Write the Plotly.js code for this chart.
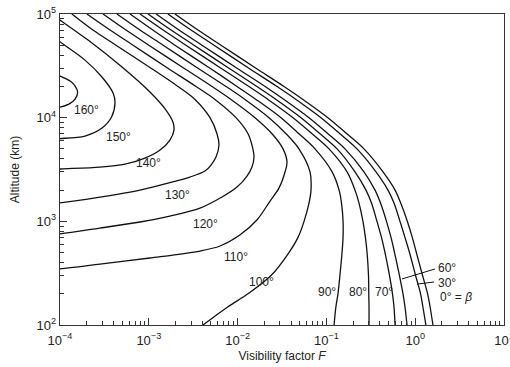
<!DOCTYPE html>
<html><head><meta charset="utf-8">
<script src="https://cdn.plot.ly/plotly-3.0.1.min.js"></script>
<style>html,body{margin:0;padding:0;background:#fff}#c{width:510px;height:367px}</style>
</head><body><div id="c"></div>
<script>
// Altitude levels (km) shared by the low-angle curves
const hLevels = [100000,70000,50000,30000,20000,15000,10000,7000,5000,3000,2000,1500,1000,700,500,300,200,150,100];
const F_0   = [0.00197,0.00358,0.0065,0.0161,0.0333,0.0544,0.104,0.170,0.265,0.434,0.593,0.687,0.815,0.927,1.03,1.21,1.38,1.47,1.585];
const F_30  = [0.00164,0.00299,0.00542,0.0134,0.0278,0.0455,0.0869,0.142,0.221,0.362,0.494,0.577,0.674,0.767,0.863,1.01,1.15,1.22,1.32];
const F_60  = [0.00121,0.00219,0.00397,0.00985,0.0204,0.0333,0.0637,0.104,0.162,0.265,0.353,0.407,0.475,0.534,0.585,0.665,0.729,0.767,0.809];
const F_70  = [0.00098,0.00178,0.00323,0.0080,0.0165,0.0271,0.0518,0.0847,0.132,0.210,0.279,0.322,0.371,0.417,0.457,0.514,0.555,0.577,0.593];
const F_80  = [0.000796,0.00145,0.00262,0.0065,0.0134,0.0220,0.0421,0.0689,0.107,0.171,0.210,0.233,0.258,0.275,0.287,0.298,0.300,0.302,0.302];
const F_90  = [0.000614,0.00111,0.00197,0.00489,0.00985,0.0161,0.0308,0.0491,0.0744,0.116,0.139,0.148,0.154,0.154,0.150,0.142,0.135,0.128,0.122];
const F_100 = [0.000438,0.000796,0.00145,0.00358,0.0074,0.0121,0.0226,0.0351,0.0491,0.0654,0.0671,0.0637,0.0560,0.0479,0.0379,0.0238,0.0131,0.0078,0.00408];

const F_110 = [0.000305,0.000554,0.00100,0.00249,0.00515,0.00843,0.0157,0.0244,0.0325,0.0360,0.0342,0.0292,0.0232,0.0165,0.0106,0.00634,0.00377,0.00103,0.000282,0.0000949,0.0000678];
const H_110 = [100000,70000,50000,30000,20000,15000,10000,7000,5000,3730,2990,2090,1570,1030,738,578,517,443,387,347,342];
const F_120 = [0.000201,0.000366,0.000664,0.00164,0.00340,0.00556,0.00959,0.0131,0.01452,0.0153,0.01452,0.01276,0.00985,0.00667,0.00377,0.00173,0.000796,0.000282,0.0000949,0.0000678];
const H_120 = [100000,70000,50000,30000,20000,15000,10000,7000,5440,4170,3340,2730,2140,1715,1340,1125,985,862,754,738];
const F_130 = [0.000136,0.000235,0.000427,0.00106,0.00213,0.00331,0.00489,0.00586,0.00617,0.00571,0.00502,0.00430,0.00291,0.00182,0.000796,0.000282,0.0000949,0.0000678];
const H_130 = [100000,70000,50000,30000,20000,15000,10000,7000,5440,4170,3490,3055,2675,2393,2004,1715,1501,1468];
const F_140 = [0.0000771,0.0001,0.000207,0.000499,0.00103,0.00156,0.00187,0.00192,0.00173,0.00134,0.000906,0.000540,0.000282,0.0000949,0.0000678];
const H_140 = [102000,87300,56000,30760,17660,11840,9070,7590,6080,4870,4080,3570,3340,3190,3125];
const F_150 = [0.0000771,0.0001,0.000191,0.000295,0.000398,0.000416,0.000382,0.000295,0.000191,0.0001,0.0000771];
const H_150 = [65400,53950,35900,24800,17150,13830,10200,7890,6650,6290,6220];
const F_160 = [0.0000771,0.0001,0.000130,0.000148,0.000158,0.000148,0.000126,0.0001,0.0000771];
const H_160 = [28150,25180,22540,20170,17660,15110,13520,12650,12380];

// Curve labels
const labelText = ['160°','150°','140°','130°','120°','110°','100°','90°','80°','70°','60°','30°','0° = <i>β</i>'];
const labelF = [2.01e-4,4.50e-4,9.8e-4,2.13e-3,4.30e-3,9.6e-3,0.0188,0.1016,0.227,0.445,2.28,2.28,2.88];
const labelH = [11840,6500,3650,1795,942,453,260,208,208,208,355,254,186];

// Leader lines for 60° and 30°
const lead60F = [0.71,1.67], lead60H = [278,347];
const lead30F = [1.05,1.63], lead30H = [248,260];

// Axis ticks
const xTickVals = [1e-4,1e-3,1e-2,1e-1,1,10];
const xTickText = ['10<sup>−4</sup>','10<sup>−3</sup>','10<sup>−2</sup>','10<sup>−1</sup>','10<sup>0</sup>','10<sup>1</sup>'];
const yTickVals = [1e2,1e3,1e4,1e5];
const yTickText = ['10<sup>2</sup>','10<sup>3</sup>','10<sup>4</sup>','10<sup>5</sup>'];

function minorVals(lo, hi){const v=[];for(let e=lo;e<hi;e++){for(let d=2;d<=9;d++)v.push(d*Math.pow(10,e));}return v;}

const lineStyle = {color:'#111', width:1.3, shape:'spline', smoothing:0.9};
const series = [
  [F_0,hLevels],[F_30,hLevels],[F_60,hLevels],[F_70,hLevels],[F_80,hLevels],[F_90,hLevels],[F_100,hLevels],
  [F_110,H_110],[F_120,H_120],[F_130,H_130],[F_140,H_140],[F_150,H_150],[F_160,H_160]
];
const traces = series.map(s=>({x:s[0], y:s[1], type:'scatter', mode:'lines', line:lineStyle, hoverinfo:'skip'}));
traces.push({x:lead60F,y:lead60H,type:'scatter',mode:'lines',line:{color:'#111',width:1}});
traces.push({x:lead30F,y:lead30H,type:'scatter',mode:'lines',line:{color:'#111',width:1}});

const font = {family:'"Liberation Sans", Arial, sans-serif', size:12, color:'#222'};
const tickFont = {family:'"Liberation Sans", Arial, sans-serif', size:13, color:'#222'};
const annotations = labelText.map((t,i)=>({
  x:Math.log10(labelF[i]), y:Math.log10(labelH[i]), xref:'x', yref:'y', text:t, showarrow:false,
  xanchor:'center', yanchor:'middle', font:{family:font.family, size:12, color:'#222'}
}));

const layout = {
  width:510, height:367, margin:{l:60,r:6,t:14,b:42},
  paper_bgcolor:'#fff', plot_bgcolor:'#fff', showlegend:false, font:font,
  xaxis:{type:'log', range:[-4,1], showgrid:false, zeroline:false, showline:true, mirror:true,
    linecolor:'#333', linewidth:1.3, ticks:'inside', ticklen:7, tickwidth:1, tickcolor:'#333',
    tickmode:'array', tickvals:xTickVals, ticktext:xTickText, tickfont:tickFont, ticklabelstandoff:3,
    ticklabeloverflow:'allow',
    minor:{tickmode:'array', tickvals:minorVals(-4,1), ticks:'inside', ticklen:4, tickcolor:'#333', showgrid:false},
    title:{text:'Visibility factor <i>F</i>', font:font, standoff:4}},
  yaxis:{type:'log', range:[2,5], showgrid:false, zeroline:false, showline:true, mirror:true,
    linecolor:'#333', linewidth:1.3, ticks:'inside', ticklen:7, tickwidth:1, tickcolor:'#333',
    tickmode:'array', tickvals:yTickVals, ticktext:yTickText, tickfont:tickFont,
    ticklabeloverflow:'allow',
    minor:{tickmode:'array', tickvals:minorVals(2,5), ticks:'inside', ticklen:4, tickcolor:'#333', showgrid:false},
    title:{text:'Altitude (km)', font:font, standoff:14}},
  annotations:annotations
};
Plotly.newPlot('c', traces, layout, {staticPlot:true, displayModeBar:false});
</script></body></html>
